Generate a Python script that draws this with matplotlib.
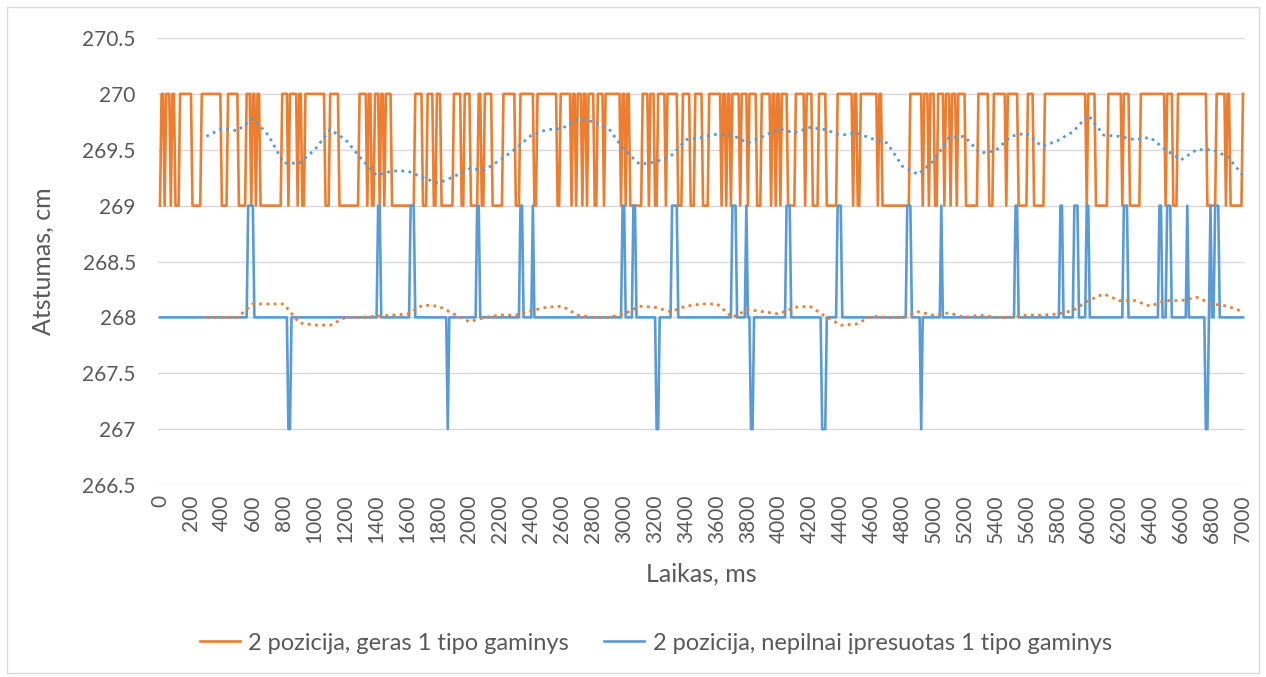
import numpy as np
import matplotlib.pyplot as plt
from matplotlib.patches import Rectangle

# time axis, ms (10 ms samples)
time_ms = np.arange(0, 7001, 10)

# orange series: intervals (start, end) in ms where the reading is 270 (otherwise 269)
orange_high = [
    (10, 20), (40, 60), (80, 90), (130, 200), (270, 390), (440, 500), (560, 580),
    (600, 610), (630, 640), (790, 820), (840, 850), (860, 880), (900, 910), (940, 950),
    (960, 1060), (1100, 1150), (1290, 1330), (1350, 1360), (1390, 1410), (1430, 1440),
    (1460, 1470), (1480, 1490), (1650, 1660), (1670, 1690), (1730, 1760), (1790, 1810),
    (1900, 1940), (1970, 1980), (1990, 2000), (2060, 2070), (2100, 2140), (2220, 2290),
    (2330, 2340), (2350, 2370), (2380, 2390), (2400, 2410), (2440, 2560), (2590, 2650),
    (2670, 2680), (2700, 2720), (2740, 2750), (2770, 2780), (2790, 2800), (2830, 2860),
    (2880, 2890), (2900, 2910), (2920, 2970), (2990, 3000), (3020, 3030), (3120, 3150),
    (3170, 3190), (3220, 3260), (3280, 3340), (3380, 3420), (3460, 3500), (3550, 3620),
    (3640, 3650), (3670, 3680), (3700, 3720), (3730, 3740), (3760, 3770), (3780, 3790),
    (3810, 3820), (3830, 3850), (3890, 3920), (3930, 3940), (3960, 3970), (3990, 4000),
    (4020, 4050), (4110, 4160), (4180, 4210), (4260, 4300), (4380, 4470), (4490, 4500),
    (4530, 4540), (4550, 4560), (4570, 4610), (4620, 4630), (4650, 4660), (4850, 4920),
    (4940, 4960), (4980, 5000), (5030, 5040), (5050, 5060), (5080, 5100), (5120, 5140),
    (5160, 5170), (5180, 5200), (5290, 5350), (5390, 5460), (5480, 5540), (5610, 5640),
    (5720, 5860), (5870, 5880), (5890, 5980), (6000, 6010), (6020, 6040), (6130, 6210),
    (6230, 6240), (6250, 6260), (6340, 6410), (6420, 6430), (6440, 6490), (6510, 6520),
    (6530, 6540), (6580, 6660), (6670, 6680), (6690, 6700), (6710, 6760), (6830, 6840),
    (6850, 6860), (6870, 6880), (6900, 6910), (7000, 7000),
]

# blue series: base 268 with short excursions (start, end, value)
blue_events = [
    (570, 600, 269), (830, 840, 267), (1410, 1420, 269), (1620, 1640, 269),
    (1860, 1860, 267), (2050, 2060, 269), (2330, 2340, 269), (2410, 2410, 269),
    (2990, 3000, 269), (3060, 3070, 269), (3210, 3220, 267), (3310, 3340, 269),
    (3700, 3720, 269), (3790, 3790, 269), (3820, 3830, 267), (4050, 4070, 269),
    (4280, 4300, 267), (4380, 4400, 269), (4830, 4850, 269), (4920, 4920, 267),
    (5050, 5050, 269), (5530, 5540, 269), (5820, 5830, 269), (5910, 5930, 269),
    (5990, 6000, 269), (6230, 6250, 269), (6460, 6470, 269), (6510, 6530, 269),
    (6640, 6640, 269), (6760, 6770, 267), (6790, 6790, 269), (6820, 6840, 269),
]

# moving-average trend lines
trend_x = np.arange(300, 7001, 100)
trend_upper = [
    269.62, 269.69, 269.67, 269.78, 269.63, 269.38, 269.38, 269.50, 269.68, 269.59,
    269.42, 269.27, 269.31, 269.31, 269.25, 269.20, 269.26, 269.33, 269.32, 269.41,
    269.51, 269.63, 269.68, 269.69, 269.78, 269.75, 269.69, 269.50, 269.37, 269.39,
    269.44, 269.59, 269.61, 269.64, 269.63, 269.56, 269.62, 269.69, 269.65, 269.70,
    269.68, 269.63, 269.65, 269.60, 269.56, 269.35, 269.28, 269.40, 269.61, 269.62,
    269.47, 269.49, 269.62, 269.65, 269.53, 269.58, 269.66, 269.81, 269.63, 269.62,
    269.59, 269.61, 269.50, 269.41, 269.50, 269.50, 269.44, 269.27,
]
trend_lower = [
    268.00, 268.00, 268.00, 268.12, 268.12, 268.12, 267.95, 267.93, 267.93, 268.00,
    268.00, 268.01, 268.02, 268.03, 268.11, 268.10, 268.03, 267.96, 268.00, 268.02,
    268.02, 268.06, 268.09, 268.10, 268.02, 268.00, 268.00, 268.03, 268.10, 268.09,
    268.05, 268.10, 268.12, 268.12, 268.00, 268.07, 268.05, 268.03, 268.09, 268.10,
    268.01, 267.93, 267.94, 268.01, 268.00, 268.00, 268.05, 268.02, 268.04, 268.00,
    268.02, 268.00, 268.00, 268.02, 268.02, 268.03, 268.06, 268.15, 268.21, 268.15,
    268.15, 268.10, 268.15, 268.15, 268.18, 268.12, 268.10, 268.05,
]

orange = np.full(time_ms.shape, 269.0)
for a, b in orange_high:
    orange[(time_ms >= a) & (time_ms <= b)] = 270.0

blue = np.full(time_ms.shape, 268.0)
for a, b, v in blue_events:
    blue[(time_ms >= a) & (time_ms <= b)] = v

plt.rcParams['font.family'] = ['Lato', 'DejaVu Sans']
c_orange = '#ED7D31'
c_blue = '#5B9BD5'
c_text = '#595959'

fig = plt.figure(figsize=(12.66, 6.77), dpi=100)
ax = fig.add_axes([158 / 1266, 1 - 485 / 677, (1245 - 158) / 1266, (485 - 38) / 677])

ax.plot(time_ms, orange, color=c_orange, lw=1.9, label='2 pozicija, geras 1 tipo gaminys', zorder=3)
ax.plot(time_ms, blue, color=c_blue, lw=1.9, label='2 pozicija, nepilnai įpresuotas 1 tipo gaminys', zorder=4)
ax.plot(trend_x, trend_upper, color=c_blue, lw=2.0, linestyle=(0, (1, 1.6)), zorder=5)
ax.plot(trend_x, trend_lower, color=c_orange, lw=2.0, linestyle=(0, (1, 1.6)), zorder=5)

ax.set_xlim(-13, 7013)
ax.set_ylim(266.5, 270.5)
ax.set_xticks(np.arange(0, 7001, 200))
ax.set_xticklabels([str(v) for v in range(0, 7001, 200)], rotation=90)
yt = np.arange(266.5, 270.51, 0.5)
ax.set_yticks(yt)
ax.set_yticklabels([('%g' % v) for v in yt])
ax.tick_params(axis='both', length=0, labelsize=15, colors=c_text)
ax.tick_params(axis='y', pad=16)
ax.tick_params(axis='x', pad=7)
ax.grid(axis='y', color='#D9D9D9', lw=1.0)
ax.set_axisbelow(True)
for s in ax.spines.values():
    s.set_visible(False)

ax.set_ylabel('Atstumas, cm', fontsize=18, color=c_text, labelpad=20)
ax.set_xlabel('Laikas, ms', fontsize=18, color=c_text, labelpad=14)

fig.legend(loc='center', bbox_to_anchor=(0.518, 1 - 643 / 677), ncol=2, frameon=False,
           fontsize=17, labelcolor=c_text, handlelength=1.7, handletextpad=0.35,
           columnspacing=1.5)

fig.patches.append(Rectangle((7 / 1266, 4 / 677), 1252 / 1266, 666 / 677, transform=fig.transFigure,
                             fill=False, edgecolor='#D9D9D9', lw=1.0))

fig.savefig('out.png', dpi=100)
